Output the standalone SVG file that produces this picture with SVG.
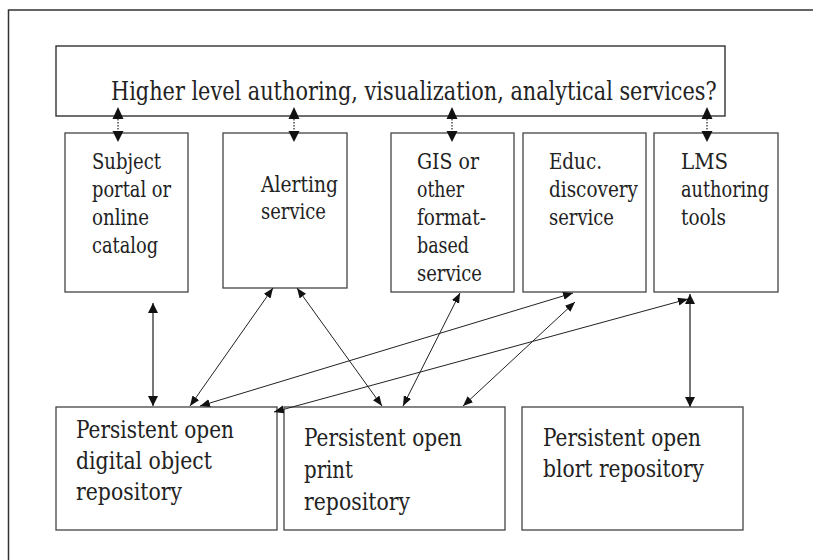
<svg xmlns="http://www.w3.org/2000/svg" width="813" height="560" viewBox="0 0 813 560">
<style>
  .box { fill: #fff; stroke: #444; stroke-width: 1.3; }
  text { font-family: 'DejaVu Serif', 'Liberation Serif', serif; fill: #222; }
  .s { font-size: 22px; }
  .b { font-size: 25px; }
  .dot { stroke: #222; stroke-width: 1.2; stroke-dasharray: 1.5 1.5; fill: none; }
  .solid { stroke: #555; stroke-width: 1.6; fill: none; marker-start: url(#ahG); marker-end: url(#ahG); }
  .thin { stroke: #222; stroke-width: 1; fill: none; marker-start: url(#ah); marker-end: url(#ah); }
  .head { fill: #111; }
</style>
<defs>
  <marker id="ah" markerUnits="userSpaceOnUse" markerWidth="11" markerHeight="9" refX="10" refY="4" orient="auto-start-reverse">
    <path d="M0,0 L10,4 L0,8 z" fill="#111"/>
  </marker>
  <marker id="ahG" markerUnits="userSpaceOnUse" markerWidth="11" markerHeight="11" refX="10" refY="5" orient="auto-start-reverse">
    <path d="M0,0 L10,5 L0,10 z" fill="#111"/>
  </marker>
</defs>
<rect x="8.5" y="10" width="810" height="560" fill="#fff" stroke="#333" stroke-width="1.5"/>

<g id="top">
  <rect class="box" x="56" y="46" width="669" height="70" style="stroke:#222"/>
  <g transform="translate(111,100) scale(0.84,1)">
    <text x="0" y="0" font-size="26" textLength="721" lengthAdjust="spacingAndGlyphs">Higher level authoring, visualization, analytical services?</text>
  </g>
</g>

<g id="subject">
  <rect class="box" x="65" y="133" width="123" height="159"/>
  <text class="s" x="92" y="169" textLength="69" lengthAdjust="spacingAndGlyphs">Subject</text>
  <text class="s" x="92" y="197" textLength="79" lengthAdjust="spacingAndGlyphs">portal or</text>
  <text class="s" x="92" y="225" textLength="57" lengthAdjust="spacingAndGlyphs">online</text>
  <text class="s" x="92" y="253" textLength="66" lengthAdjust="spacingAndGlyphs">catalog</text>
</g>
<g id="alerting">
  <rect class="box" x="223" y="133" width="124" height="155"/>
  <text class="s" x="261" y="192" textLength="77" lengthAdjust="spacingAndGlyphs">Alerting</text>
  <text class="s" x="261" y="219" textLength="65" lengthAdjust="spacingAndGlyphs">service</text>
</g>
<g id="gis">
  <rect class="box" x="391" y="133" width="123" height="159"/>
  <text class="s" x="417" y="169" textLength="62" lengthAdjust="spacingAndGlyphs">GIS or</text>
  <text class="s" x="417" y="197" textLength="47" lengthAdjust="spacingAndGlyphs">other</text>
  <text class="s" x="417" y="225" textLength="69" lengthAdjust="spacingAndGlyphs">format-</text>
  <text class="s" x="417" y="253" textLength="52" lengthAdjust="spacingAndGlyphs">based</text>
  <text class="s" x="417" y="281" textLength="65" lengthAdjust="spacingAndGlyphs">service</text>
</g>
<g id="educ">
  <rect class="box" x="523" y="133" width="123" height="159"/>
  <text class="s" x="549" y="169" textLength="53" lengthAdjust="spacingAndGlyphs">Educ.</text>
  <text class="s" x="549" y="197" textLength="89" lengthAdjust="spacingAndGlyphs">discovery</text>
  <text class="s" x="549" y="225" textLength="65" lengthAdjust="spacingAndGlyphs">service</text>
</g>
<g id="lms">
  <rect class="box" x="654" y="133" width="124" height="159"/>
  <text class="s" x="681" y="169" textLength="47" lengthAdjust="spacingAndGlyphs">LMS</text>
  <text class="s" x="681" y="197" textLength="88" lengthAdjust="spacingAndGlyphs">authoring</text>
  <text class="s" x="681" y="225" textLength="45" lengthAdjust="spacingAndGlyphs">tools</text>
</g>

<g id="digital">
  <rect class="box" x="56" y="407" width="221" height="123"/>
  <text class="b" x="76" y="438" textLength="158" lengthAdjust="spacingAndGlyphs">Persistent open</text>
  <text class="b" x="76" y="469" textLength="136" lengthAdjust="spacingAndGlyphs">digital object</text>
  <text class="b" x="76" y="500" textLength="106" lengthAdjust="spacingAndGlyphs">repository</text>
</g>
<g id="print">
  <rect class="box" x="284" y="407" width="221" height="123"/>
  <text class="b" x="304" y="446" textLength="158" lengthAdjust="spacingAndGlyphs">Persistent open</text>
  <text class="b" x="304" y="478" textLength="49" lengthAdjust="spacingAndGlyphs">print</text>
  <text class="b" x="304" y="510" textLength="106" lengthAdjust="spacingAndGlyphs">repository</text>
</g>
<g id="blort">
  <rect class="box" x="522" y="407" width="221" height="123"/>
  <text class="b" x="543" y="446" textLength="158" lengthAdjust="spacingAndGlyphs">Persistent open</text>
  <text class="b" x="543" y="477" textLength="161" lengthAdjust="spacingAndGlyphs">blort repository</text>
</g>

<g id="connectors">
  <g>
    <line class="dot" x1="118" y1="119" x2="118" y2="131"/>
    <path class="head" d="M118,107 L123.5,119 L112.5,119 z"/>
    <path class="head" d="M118,142 L123.5,131 L112.5,131 z"/>
    <line class="dot" x1="294" y1="119" x2="294" y2="131"/>
    <path class="head" d="M294,107 L299.5,119 L288.5,119 z"/>
    <path class="head" d="M294,142 L299.5,131 L288.5,131 z"/>
    <line class="dot" x1="452" y1="119" x2="452" y2="131"/>
    <path class="head" d="M452,107 L457.5,119 L446.5,119 z"/>
    <path class="head" d="M452,142 L457.5,131 L446.5,131 z"/>
    <line class="dot" x1="707" y1="119" x2="707" y2="131"/>
    <path class="head" d="M707,107 L712.5,119 L701.5,119 z"/>
    <path class="head" d="M707,142 L712.5,131 L701.5,131 z"/>
  </g>
  <line class="solid" x1="153" y1="303" x2="153" y2="406"/>
  <line class="solid" x1="690" y1="294" x2="690" y2="407"/>
  <line class="thin" x1="273" y1="288" x2="190" y2="406"/>
  <line class="thin" x1="297" y1="288" x2="382" y2="406"/>
  <line class="thin" x1="573" y1="293" x2="200" y2="406"/>
  <line class="thin" x1="688" y1="299" x2="274" y2="412"/>
  <line class="thin" x1="460" y1="293" x2="403" y2="406"/>
  <line class="thin" x1="575" y1="302" x2="463" y2="406"/>
</g>
</svg>
